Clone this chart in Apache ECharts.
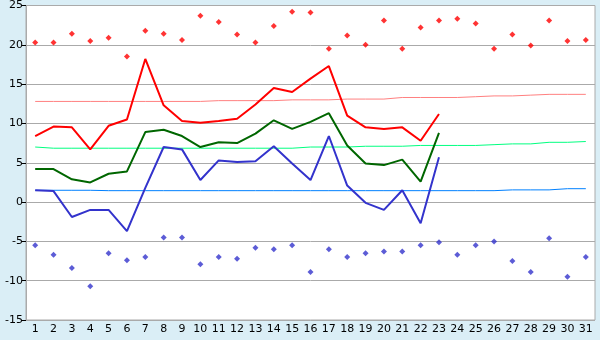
<!DOCTYPE html>
<html>
<head>
<meta charset="utf-8">
<script src="https://cdn.jsdelivr.net/npm/echarts@6/dist/echarts.min.js"></script>
<style>
  html, body { margin: 0; padding: 0; background: #daeef6; }
  #chart { width: 600px; height: 340px; }
</style>
</head>
<body>
<div id="chart"></div>
<script>
// 日期
var days = [];
for (var d = 1; d <= 31; d++) days.push(String(d));

// 最高 / 平均 / 最低 (只有前23天)
var tMax = [8.4, 9.6, 9.5, 6.7, 9.7, 10.5, 18.2, 12.3, 10.3, 10.1, 10.3, 10.6, 12.4, 14.5, 14.0, 15.7, 17.3, 11.0, 9.5, 9.3, 9.5, 7.8, 11.2];
var tMean = [4.2, 4.2, 2.9, 2.5, 3.6, 3.9, 8.9, 9.2, 8.4, 7.0, 7.6, 7.5, 8.7, 10.4, 9.3, 10.2, 11.3, 7.2, 4.9, 4.7, 5.4, 2.6, 8.8];
var tMin = [1.5, 1.4, -1.9, -1.0, -1.0, -3.7, 1.8, 7.0, 6.7, 2.8, 5.3, 5.1, 5.2, 7.1, 4.9, 2.8, 8.4, 2.1, -0.1, -1.0, 1.5, -2.7, 5.7];

// 常年值
var normMax = [12.8, 12.8, 12.8, 12.8, 12.8, 12.8, 12.8, 12.8, 12.8, 12.8, 12.9, 12.9, 12.9, 12.9, 13.0, 13.0, 13.0, 13.1, 13.1, 13.1,
  13.3, 13.3, 13.3, 13.3, 13.4, 13.5, 13.5, 13.6, 13.7, 13.7, 13.7];
var normMean = [7.0, 6.85, 6.85, 6.85, 6.85, 6.85, 6.85, 6.85, 6.85, 6.85, 6.85, 6.85, 6.85, 6.85, 6.85, 7.0, 7.0, 7.0, 7.1, 7.1,
  7.1, 7.2, 7.2, 7.2, 7.2, 7.3, 7.4, 7.4, 7.6, 7.6, 7.7];
var normMin = [1.5, 1.5, 1.5, 1.5, 1.45, 1.45, 1.45, 1.45, 1.45, 1.45, 1.45, 1.45, 1.45, 1.45, 1.45, 1.45, 1.45, 1.45, 1.45, 1.45,
  1.45, 1.45, 1.45, 1.45, 1.45, 1.45, 1.55, 1.55, 1.55, 1.7, 1.7];

// 极值
var recMax = [20.3, 20.3, 21.4, 20.5, 20.9, 18.5, 21.8, 21.4, 20.6, 23.7, 22.9, 21.3, 20.3, 22.4, 24.2, 24.1, 19.5, 21.2, 20.0, 23.1,
  19.5, 22.2, 23.1, 23.3, 22.7, 19.5, 21.3, 19.9, 23.1, 20.5, 20.6];
var recMin = [-5.5, -6.7, -8.4, -10.7, -6.5, -7.4, -7.0, -4.5, -4.5, -7.9, -7.0, -7.2, -5.8, -6.0, -5.5, -8.9, -6.0, -7.0, -6.5, -6.3,
  -6.3, -5.5, -5.1, -6.7, -5.5, -5.0, -7.5, -8.9, -4.6, -9.5, -7.0];

var yTicks = { min: -15, max: 25, step: 5 };

var myChart = echarts.init(document.getElementById('chart'), null, { renderer: 'canvas' });

function lineSeries(data, color, width, z) {
  return {
    type: 'line',
    data: data,
    symbol: 'none',
    silent: true,
    z: z,
    lineStyle: { color: color, width: width },
    animation: false
  };
}

function dotSeries(data, color) {
  return {
    type: 'scatter',
    data: data,
    symbol: 'diamond',
    symbolSize: 6,
    itemStyle: { color: color },
    z: 5,
    animation: false
  };
}

option = {
  backgroundColor: '#daeef6',
  animation: false,
  grid: {
    left: 26, right: 5, top: 5, bottom: 20,
    show: true,
    backgroundColor: '#ffffff',
    borderColor: '#aaaaaa',
    borderWidth: 1
  },
  xAxis: {
    type: 'category',
    data: days,
    boundaryGap: true,
    axisLine: { lineStyle: { color: '#aaaaaa' } },
    axisTick: { alignWithLabel: true, length: 5, lineStyle: { color: '#000' } },
    axisLabel: { color: '#000', fontFamily: 'DejaVu Sans', fontSize: 11, margin: 4, interval: 0 },
    splitLine: { show: false }
  },
  yAxis: {
    type: 'value',
    min: yTicks.min, max: yTicks.max, interval: yTicks.step,
    axisLine: { show: true, lineStyle: { color: '#aaaaaa' } },
    axisTick: { show: true, length: 4, lineStyle: { color: '#000' } },
    axisLabel: { color: '#000', fontFamily: 'DejaVu Sans', fontSize: 11, margin: 3 },
    splitLine: { lineStyle: { color: '#aaaaaa', width: 1 } }
  },
  series: [
    lineSeries(normMax, '#ff8080', 1, 2),
    lineSeries(normMean, '#00ff80', 1, 2),
    lineSeries(normMin, '#0080ff', 1, 2),
    lineSeries(tMax, '#ff0000', 2, 3),
    lineSeries(tMean, '#006600', 2, 3),
    lineSeries(tMin, '#3333cc', 2, 3),
    dotSeries(recMax, '#ff0000'),
    dotSeries(recMin, '#3333cc')
  ]
};

myChart.setOption(option);
</script>
</body>
</html>
